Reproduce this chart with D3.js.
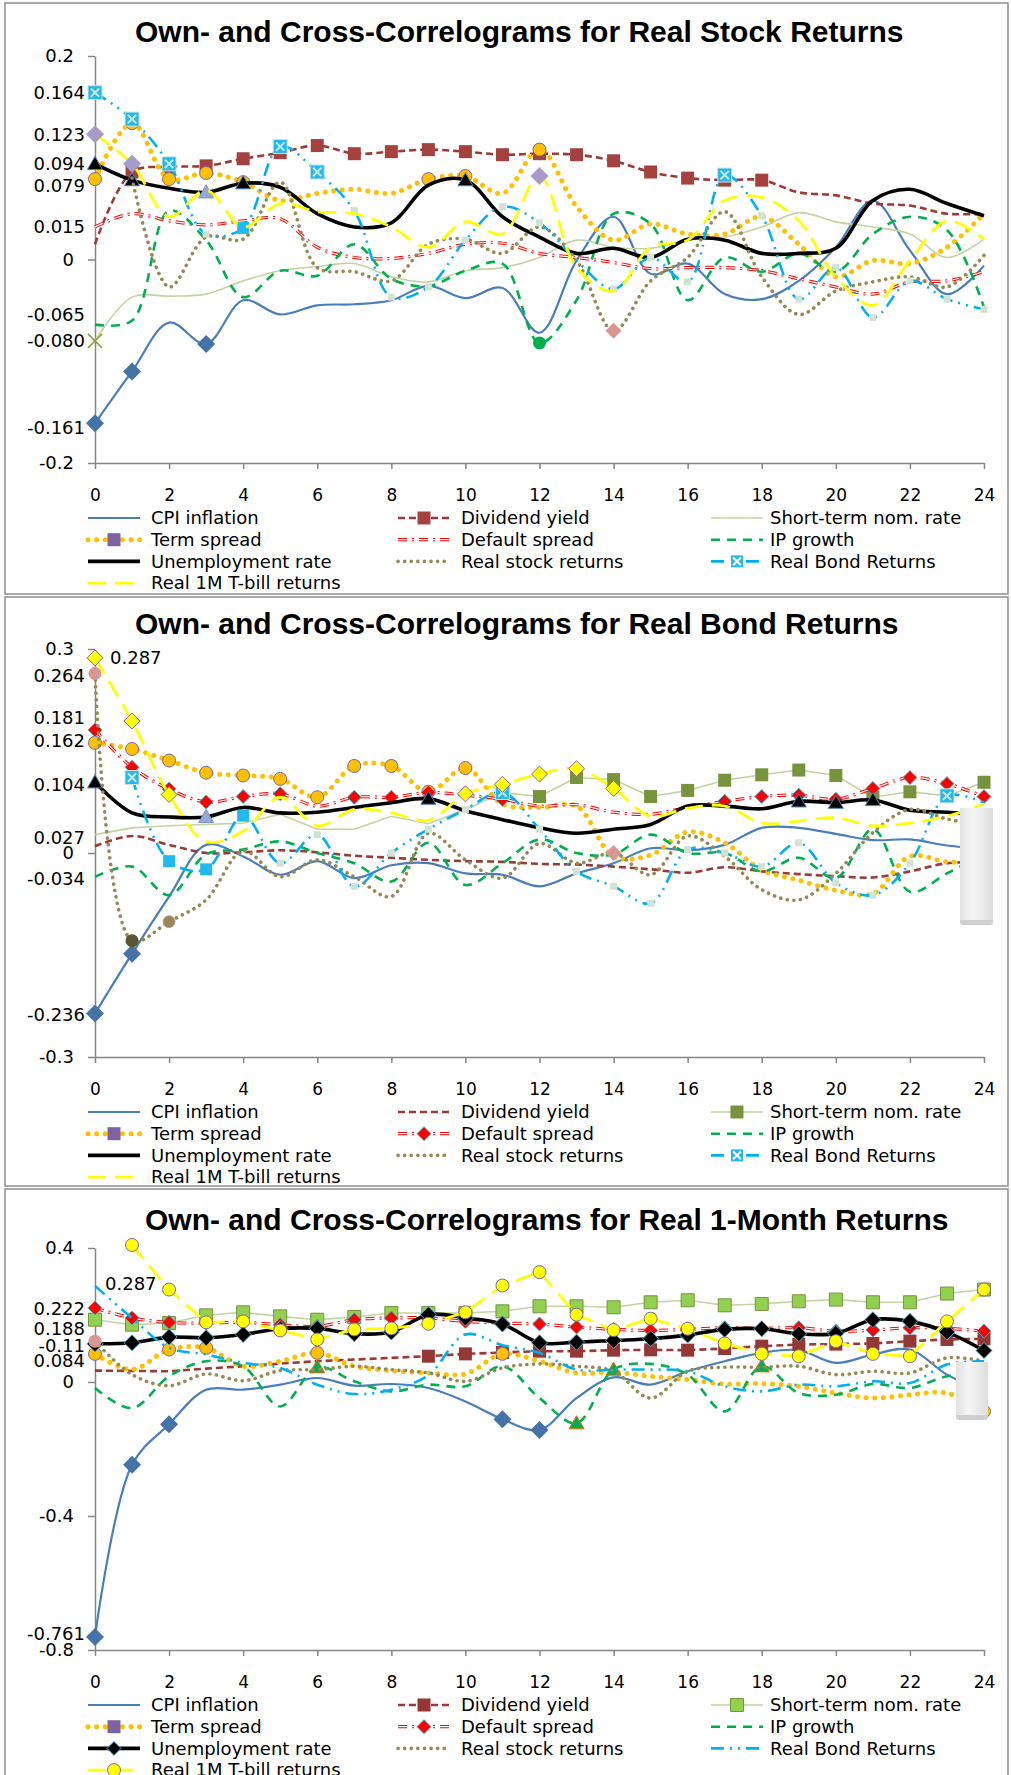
<!DOCTYPE html>
<html>
<head>
<meta charset="utf-8">
<script src="https://cdn.jsdelivr.net/npm/d3@7"></script>
<style>
  body { margin: 0; background: #fff; }
  svg text { font-family: "DejaVu Sans", sans-serif; fill: #000; }
</style>
</head>
<body>
<svg id="chart" width="1011" height="1775"></svg>
<script>
// lags on the x axis
const lags = [0,1,2,3,4,5,6,7,8,9,10,11,12,13,14,15,16,17,18,19,20,21,22,23,24];
const xTickLags = [0,2,4,6,8,10,12,14,16,18,20,22,24];

const seriesNames = ['CPI inflation', 'Dividend yield', 'Short-term nom. rate',
  'Term spread', 'Default spread', 'IP growth',
  'Unemployment rate', 'Real stock returns', 'Real Bond Returns',
  'Real 1M T-bill returns'];

// --- panel 1: real stock returns ---
const stockCpi = [-0.161,-0.110,-0.062,-0.083,-0.040,-0.054,-0.045,-0.044,-0.040,-0.026,-0.038,-0.028,-0.072,-0.001,0.042,-0.014,-0.004,-0.034,-0.039,-0.021,0.012,0.058,0.009,-0.034,-0.006];
const stockDiv = [0.015,0.086,0.091,0.092,0.099,0.105,0.112,0.104,0.106,0.108,0.106,0.103,0.104,0.103,0.097,0.086,0.080,0.078,0.078,0.066,0.063,0.055,0.053,0.045,0.045];
const stockShort = [-0.080,-0.037,-0.036,-0.034,-0.021,-0.011,-0.007,-0.004,-0.017,-0.022,-0.011,-0.008,0.002,0.019,0.012,0.011,0.019,0.022,0.032,0.046,0.037,0.032,0.025,0.002,0.020];
const stockTerm = [0.079,0.134,0.079,0.085,0.076,0.058,0.065,0.069,0.065,0.079,0.082,0.065,0.108,0.052,0.019,0.035,0.025,0.025,0.042,0.015,-0.017,-0.001,-0.004,0.012,0.045];
const stockDefault = [0.032,0.045,0.038,0.034,0.038,0.040,0.012,0.002,0.001,0.006,0.015,0.016,0.006,0.002,-0.003,-0.009,-0.008,-0.008,-0.011,-0.019,-0.027,-0.034,-0.022,-0.021,-0.012];
const stockIp = [-0.064,-0.060,0.048,0.019,-0.037,-0.011,-0.016,0.015,-0.019,-0.026,-0.011,-0.004,-0.082,-0.040,0.045,0.035,-0.040,0.002,-0.012,0.006,-0.012,0.025,0.042,0.029,-0.047];
const stockUnemp = [0.094,0.078,0.070,0.066,0.075,0.071,0.045,0.032,0.036,0.073,0.078,0.042,0.022,0.006,0.011,0.002,0.020,0.019,0.006,0.006,0.011,0.058,0.069,0.055,0.043];
const stockStock = [null,0.080,-0.027,0.022,0.020,0.076,-0.008,-0.012,-0.021,0.015,0.020,0.006,0.032,-0.001,-0.070,-0.021,0.002,0.047,-0.017,-0.054,-0.031,-0.022,-0.017,-0.027,0.004];
const stockBond = [0.164,0.138,0.094,0.025,0.031,0.111,0.086,0.048,-0.037,-0.027,0.019,0.052,0.036,-0.001,-0.029,0.002,-0.022,0.083,0.043,-0.039,-0.008,-0.057,-0.021,-0.039,-0.049];
const stockTbill = [0.123,0.094,0.042,0.068,0.032,0.055,0.047,0.045,0.032,0.012,0.037,0.025,0.082,-0.008,-0.031,0.012,0.019,0.058,0.061,0.038,-0.017,-0.045,-0.001,0.038,0.020];
const stockTickVals = [0.2, 0, -0.2];
const stockTickText = ['0.2', '0', '-0.2'];
const stockLabelVals = [0.164, 0.123, 0.094, 0.079, 0.015, -0.065, -0.080, -0.161];
const stockLabelText = ['0.164', '0.123', '0.094', '0.079', '0.015', '-0.065', '-0.080', '-0.161'];

// --- panel 2: real bond returns ---
const bondCpi = [-0.236,-0.148,-0.064,0.012,-0.005,-0.032,-0.012,-0.037,-0.018,-0.015,-0.030,-0.032,-0.049,-0.030,-0.015,0.007,0.004,0.012,0.037,0.037,0.028,0.019,0.020,0.011,0.006];
const bondDiv = [0.010,0.025,0.012,0.000,0.001,0.004,0.001,-0.004,-0.007,-0.010,-0.012,-0.013,-0.016,-0.017,-0.020,-0.024,-0.029,-0.021,-0.027,-0.031,-0.034,-0.036,-0.027,-0.015,-0.014];
const bondShort = [0.027,0.037,0.040,0.042,0.044,0.057,0.035,0.035,0.054,0.043,0.064,0.089,0.083,0.111,0.108,0.083,0.092,0.107,0.115,0.122,0.114,0.082,0.090,0.084,0.104];
const bondTerm = [0.162,0.153,0.136,0.118,0.114,0.109,0.082,0.128,0.128,0.090,0.125,0.072,0.067,0.069,-0.005,-0.003,0.031,0.015,-0.025,-0.040,-0.055,-0.060,-0.005,-0.013,-0.015];
const bondDefault = [0.181,0.126,0.094,0.075,0.083,0.087,0.069,0.082,0.082,0.089,0.085,0.079,0.069,0.071,0.060,0.057,0.067,0.076,0.083,0.085,0.079,0.095,0.111,0.102,0.083];
const bondIp = [-0.035,-0.020,-0.062,-0.002,0.005,0.017,0.000,-0.015,-0.042,0.015,-0.047,-0.015,0.020,0.000,-0.002,0.027,0.000,0.000,-0.027,-0.007,-0.037,0.035,-0.057,-0.030,-0.002];
const bondUnemp = [0.104,0.059,0.053,0.053,0.067,0.059,0.060,0.067,0.074,0.080,0.062,0.049,0.037,0.029,0.035,0.042,0.069,0.069,0.065,0.076,0.074,0.078,0.063,0.060,0.056];
const bondStock = [0.264,-0.129,-0.101,-0.069,0.003,-0.035,-0.010,-0.035,-0.064,0.029,-0.010,-0.037,0.014,-0.015,0.000,-0.032,0.025,-0.005,-0.054,-0.069,-0.030,0.030,0.064,0.050,0.040];
const bondBond = [null,0.111,-0.012,-0.024,0.055,-0.015,0.027,-0.049,0.000,0.035,0.064,0.089,0.035,-0.027,-0.049,-0.074,0.005,0.000,-0.020,0.015,-0.044,-0.062,-0.015,0.084,0.074];
const bondTbill = [0.287,0.194,0.086,0.017,0.032,0.082,0.040,0.064,0.059,0.048,0.087,0.101,0.116,0.124,0.095,0.054,0.066,0.069,0.044,0.047,0.052,0.040,0.044,0.054,0.072];
const bondTickVals = [0.3, 0, -0.3];
const bondTickText = ['0.3', '0', '-0.3'];
const bondLabelVals = [0.287, 0.264, 0.181, 0.162, 0.104, 0.027, -0.034, -0.236];
const bondLabelText = ['0.287', '0.264', '0.181', '0.162', '0.104', '0.027', '-0.034', '-0.236'];

// --- panel 3: real 1-month returns ---
const m1Cpi = [-0.761,-0.247,-0.126,-0.023,-0.023,-0.008,0.012,-0.011,-0.006,-0.018,-0.058,-0.111,-0.143,-0.048,0.014,-0.008,0.032,0.062,0.087,0.095,0.057,0.082,0.097,0.022,-0.028];
const m1Div = [0.034,0.033,0.032,0.040,0.047,0.055,0.062,0.067,0.072,0.077,0.084,0.088,0.092,0.092,0.095,0.096,0.095,0.100,0.107,0.112,0.113,0.115,0.122,0.127,0.129];
const m1Short = [0.186,0.171,0.176,0.199,0.208,0.196,0.186,0.194,0.206,0.206,0.206,0.211,0.226,0.226,0.223,0.238,0.244,0.229,0.233,0.241,0.246,0.238,0.238,0.264,0.276];
const m1Term = [0.084,0.037,0.097,0.102,0.047,0.062,0.087,0.047,0.034,0.027,0.024,0.084,0.062,0.027,0.029,0.017,0.007,-0.006,-0.005,-0.013,-0.033,-0.048,-0.038,-0.033,-0.088];
const m1Default = [0.221,0.191,0.178,0.176,0.178,0.171,0.166,0.186,0.191,0.191,0.181,0.176,0.173,0.164,0.157,0.154,0.157,0.162,0.160,0.162,0.152,0.155,0.162,0.160,0.152];
const m1Ip = [-0.018,-0.078,0.017,0.062,0.047,-0.073,0.044,0.002,-0.028,-0.008,-0.013,0.047,-0.048,-0.123,0.037,0.054,0.022,-0.088,0.047,-0.033,-0.038,-0.006,-0.018,0.017,0.022];
const m1Unemp = [0.114,0.117,0.134,0.132,0.142,0.159,0.160,0.144,0.149,0.201,0.191,0.173,0.117,0.119,0.124,0.129,0.140,0.157,0.159,0.144,0.145,0.186,0.181,0.149,0.094];
const m1Stock = [0.122,0.022,-0.011,0.024,0.004,0.034,0.037,0.047,0.037,0.027,0.002,0.042,0.054,0.047,0.032,-0.048,0.032,0.044,0.044,0.047,0.022,0.032,0.027,0.072,0.062];
const m1Bond = [0.287,0.191,0.102,0.082,0.057,0.042,-0.008,-0.036,-0.023,0.020,0.142,0.110,0.087,0.037,0.037,0.037,0.032,-0.013,-0.028,-0.008,-0.013,0.002,-0.003,0.052,0.062];
const m1Tbill = [null,0.409,0.276,0.178,0.181,0.154,0.127,0.157,0.160,0.174,0.208,0.288,0.328,0.201,0.155,0.189,0.159,0.115,0.084,0.077,0.122,0.084,0.077,0.181,0.276];
const m1TickVals = [0.4, 0, -0.4, -0.8];
const m1TickText = ['0.4', '0', '-0.4', '-0.8'];
const m1LabelVals = [0.287, 0.222, 0.188, 0.107, 0.084, -0.761];
const m1LabelText = ['0.287', '0.222', '0.188', '-0.11', '0.084', '-0.761'];

// line look for each series (same in every panel)
const lineStyles = [
  {color: '#4a7ebb', width: 2.2},
  {color: '#9b3b37', width: 2.6, dash: '7,4'},
  {color: '#c3d3a2', width: 1.6},
  {color: '#ffc000', width: 5, dash: '0.1,8.5', cap: 'round'},
  {color: '#ff0000', width: 3.2, dash: '9,5,2,5', hollow: true},
  {color: '#00b050', width: 2.6, dash: '9,7'},
  {color: '#000000', width: 3.6},
  {color: '#948a54', width: 3.6, dash: '0.1,6.5', cap: 'round'},
  {color: '#00b0f0', width: 2.6, dash: '13,6,2,6,2,6'},
  {color: '#ffff00', width: 2.8, dash: '18,9'}
];

const x = d3.scaleLinear().domain([0, 24]).range([95, 984]);

const mk = (shape, s, fill, stroke, lagList) => ({shape, s, fill, stroke, lags: lagList});
const BLUE_D = '#4572a7', PURPLE = '#7a66a8', FAINT = '#d3e3d3';

const panels = [
  {
    title: 'Own- and Cross-Correlograms for Real Stock Returns',
    box: [3, 594], titleX: 135, titleY: 42,
    yDomain: [-0.2, 0.2], yRange: [463, 56],
    tickVals: stockTickVals, tickText: stockTickText,
    labelVals: stockLabelVals, labelText: stockLabelText,
    labelNudge: [0, 0, 0, 7, -18, -11, 0, 4], labelStart: {},
    series: [stockCpi, stockDiv, stockShort, stockTerm, stockDefault, stockIp, stockUnemp, stockStock, stockBond, stockTbill],
    straight: [],
    markers: [
      [mk('diamond', 9, BLUE_D, 'none', [0, 1, 3])],
      [mk('square', 6.5, '#a5423f', 'none', d3.range(1, 19))],
      [mk('x', 7, 'none', '#8da040', [0])],
      [mk('circle', 6.5, '#ffc000', PURPLE, [0, 1, 2, 3, 4, 9, 10, 12])],
      [],
      [mk('circle', 6.5, '#00b050', 'none', [12])],
      [mk('triangle', 7.5, '#000', '#4f81bd', [0, 1, 4, 10]), mk('triangle', 7.5, '#95a9d5', '#7f8fc0', [3])],
      [mk('diamond', 8, '#d99694', 'none', [14])],
      [mk('square', 3.5, FAINT, 'none', [3, 7, 8, 9, 10, 11, 12, 14, 15, 16, 18, 19, 20, 21, 22, 23, 24]),
       mk('xsquare', 7, '#22b8f0', '#c9e6d6', [0, 1, 2, 5, 6, 17]), mk('square', 6, '#22b8f0', 'none', [4])],
      [mk('diamond', 9, '#a79bc8', 'none', [0, 1, 12])]
    ],
    legendMarks: [null, mk('square', 6.5, '#a5423f'), null, mk('square', 6.5, '#7f63a0'), null, null, null, null, mk('xsquare', 6.5, '#22b8f0', '#ffffff'), null],
    greyBox: null
  },
  {
    title: 'Own- and Cross-Correlograms for Real Bond Returns',
    box: [597, 1186], titleX: 135, titleY: 634,
    yDomain: [-0.3, 0.3], yRange: [1057, 649],
    tickVals: bondTickVals, tickText: bondTickText,
    labelVals: bondLabelVals, labelText: bondLabelText,
    labelNudge: [0, 2, -12, -2, 2, 3, 3, 1], labelStart: {'0.287': 110},
    series: [bondCpi, bondDiv, bondShort, bondTerm, bondDefault, bondIp, bondUnemp, bondStock, bondBond, bondTbill],
    straight: [2],
    markers: [
      [mk('diamond', 9, BLUE_D, 'none', [0, 1])],
      [],
      [mk('square', 6.5, '#77933c', 'none', d3.range(11, 25))],
      [mk('circle', 6.5, '#ffc000', PURPLE, d3.range(0, 11))],
      [mk('diamond', 7, '#ff0000', '#4bacc6', [0, 1, 2, 3, 4, 5, 7, 8, 9, 11, 17, 18, 19, 20, 21, 22, 23, 24])],
      [],
      [mk('triangle', 7.5, '#000', '#4f81bd', [0, 9, 19, 20, 21]), mk('triangle', 7.5, '#95a9d5', '#7f8fc0', [3])],
      [mk('circle', 6.5, '#d99694', 'none', [0]), mk('circle', 6.5, '#5b5434', 'none', [1]),
       mk('circle', 6, '#948a54', '#d99694', [2]), mk('diamond', 8, '#d99694', 'none', [14])],
      [mk('square', 3.5, FAINT, 'none', [5, 6, 7, 8, 9, 10, 12, 13, 14, 15, 16, 17, 18, 19, 20, 21, 22]),
       mk('xsquare', 7, '#22b8f0', '#c9e6d6', [1, 11, 23]), mk('square', 6, '#22b8f0', 'none', [2, 3, 4])],
      [mk('diamond', 8, '#ffff00', '#8064a2', [0, 1, 2, 10, 11, 12, 13, 14])]
    ],
    legendMarks: [null, null, mk('square', 6.5, '#77933c'), mk('square', 6.5, '#7f63a0'), mk('diamond', 7, '#ff0000', '#4bacc6'), null, null, null, mk('xsquare', 6.5, '#22b8f0', '#ffffff'), null],
    greyBox: [960, 808, 33, 115]
  },
  {
    title: 'Own- and Cross-Correlograms for Real 1-Month Returns',
    box: [1189, 1795], titleX: 145, titleY: 1230,
    yDomain: [-0.8, 0.4], yRange: [1650, 1248],
    tickVals: m1TickVals, tickText: m1TickText,
    labelVals: m1LabelVals, labelText: m1LabelText,
    labelNudge: [-2, 1, 10, 0, 7, -3], labelStart: {'0.287': 105},
    series: [m1Cpi, m1Div, m1Short, m1Term, m1Default, m1Ip, m1Unemp, m1Stock, m1Bond, m1Tbill],
    straight: [1, 2, 9],
    markers: [
      [mk('diamond', 9, BLUE_D, 'none', [0, 1, 2, 11, 12])],
      [mk('square', 6.5, '#953735', 'none', d3.range(9, 25))],
      [mk('square', 6.5, '#92d050', '#77933c', d3.range(0, 25))],
      [mk('circle', 6.5, '#ffc000', PURPLE, [0, 2, 3, 6, 11, 24])],
      [mk('diamond', 7, '#ff0000', '#4bacc6', d3.range(0, 25))],
      [mk('triangle', 7.5, '#00b050', '#e46c0a', [6, 13, 14, 18])],
      [mk('diamond', 8, '#000', '#4bacc6', d3.range(0, 25))],
      [mk('circle', 6.5, '#d99694', 'none', [0])],
      [],
      [mk('circle', 6.5, '#ffff00', '#8064a2', d3.range(1, 25))]
    ],
    legendMarks: [null, mk('square', 6.5, '#953735'), mk('square', 6.5, '#92d050', '#77933c'), mk('square', 6.5, '#7f63a0'), mk('diamond', 7, '#ff0000', '#4bacc6'), null, mk('diamond', 7, '#000', '#4bacc6'), null, null, mk('circle', 6.5, '#ffff00', '#8064a2')],
    greyBox: [956, 1362, 32, 56]
  }
];

function shapePath(shape, s) {
  switch (shape) {
    case 'diamond': return `M0,${-s}L${s},0L0,${s}L${-s},0Z`;
    case 'triangle': return `M0,${-s}L${s},${s * 0.75}L${-s},${s * 0.75}Z`;
    case 'circle': return `M${s},0A${s},${s} 0 1,1 ${-s},0A${s},${s} 0 1,1 ${s},0Z`;
    case 'x': return `M${-s},${-s}L${s},${s}M${-s},${s}L${s},${-s}`;
    default: return `M${-s},${-s}H${s}V${s}H${-s}Z`;
  }
}

function drawMarker(g, m, cx, cy) {
  const node = g.append('g').attr('transform', `translate(${cx},${cy})`);
  if (m.shape === 'x') {
    node.append('path').attr('d', shapePath('x', m.s))
        .attr('stroke', m.stroke).attr('stroke-width', 1.5).attr('fill', 'none');
    return;
  }
  node.append('path').attr('d', shapePath(m.shape, m.s))
      .attr('fill', m.fill)
      .attr('stroke', m.stroke || 'none')
      .attr('stroke-width', 1);
  if (m.shape === 'xsquare') {
    node.append('path').attr('d', shapePath('x', m.s * 0.6))
        .attr('stroke', m.stroke).attr('stroke-width', 2).attr('fill', 'none');
  }
}

function styleLine(path, st, over) {
  path.attr('fill', 'none')
      .attr('stroke', over ? '#fff' : st.color)
      .attr('stroke-width', over ? st.width - 2 : st.width)
      .attr('stroke-dasharray', st.dash || null)
      .attr('stroke-linecap', st.cap || 'butt')
      .attr('stroke-linejoin', 'round');
}

const svg = d3.select('#chart');

const defs = svg.append('defs');
const grad = defs.append('linearGradient').attr('id', 'greyGrad');
grad.append('stop').attr('offset', '0%').attr('stop-color', '#e2e2e2');
grad.append('stop').attr('offset', '40%').attr('stop-color', '#f5f5f5');
grad.append('stop').attr('offset', '100%').attr('stop-color', '#dedede');

panels.forEach(p => {
  const g = svg.append('g');
  const y = d3.scaleLinear().domain(p.yDomain).range(p.yRange);
  const axisY = p.yRange[0];

  g.append('rect')
      .attr('x', 5).attr('y', p.box[0])
      .attr('width', 1003).attr('height', p.box[1] - p.box[0])
      .attr('fill', '#fff').attr('stroke', '#8e8e8e').attr('stroke-width', 1.5);

  g.append('text')
      .attr('x', p.titleX).attr('y', p.titleY)
      .style('font-family', '"Liberation Sans", Arial, sans-serif')
      .style('font-weight', 'bold')
      .style('font-size', '30px')
      .text(p.title);

  // axes
  g.append('g')
      .attr('transform', `translate(0,${axisY})`)
      .call(d3.axisBottom(x).tickValues(xTickLags).tickSizeInner(6).tickSizeOuter(0).tickPadding(20).tickFormat(d => String(d)))
      .call(a => a.selectAll('path,line').attr('stroke', '#868686').attr('stroke-width', 1.5))
      .call(a => a.selectAll('text').style('font-size', '17px').style('font-family', '"DejaVu Sans", sans-serif'));

  g.append('g')
      .attr('transform', `translate(${x(0)},0)`)
      .call(d3.axisLeft(y).tickValues(p.tickVals).tickSizeInner(7).tickSizeOuter(0).tickPadding(14)
          .tickFormat((d, i) => p.tickText[i]))
      .call(a => a.selectAll('path,line').attr('stroke', '#868686').attr('stroke-width', 1.5))
      .call(a => a.selectAll('text').style('font-size', '18px').style('font-family', '"DejaVu Sans", sans-serif'));

  // value labels beside the axis
  g.selectAll('.vlabel')
    .data(p.labelVals.map((v, i) => ({v, text: p.labelText[i], nudge: p.labelNudge[i]})))
    .join('text')
      .attr('class', 'vlabel')
      .attr('x', d => p.labelStart[d.text] !== undefined ? p.labelStart[d.text] : 85)
      .attr('y', d => y(d.v) + d.nudge)
      .attr('dy', '0.35em')
      .attr('text-anchor', d => p.labelStart[d.text] !== undefined ? 'start' : 'end')
      .style('font-size', '18px')
      .text(d => d.text);

  // series
  p.series.forEach((vals, si) => {
    const st = lineStyles[si];
    const pts = lags.map((lag, i) => ({lag, v: vals[i]}));
    const line = d3.line()
        .defined(d => d.v !== null)
        .x(d => x(d.lag))
        .y(d => y(d.v))
        .curve(p.straight.includes(si) ? d3.curveLinear : d3.curveCatmullRom.alpha(0.5));
    const sg = g.append('g').attr('class', 'series');
    sg.append('path').attr('d', line(pts)).call(path => styleLine(path, st, false));
    if (st.hollow) sg.append('path').attr('d', line(pts)).call(path => styleLine(path, st, true));
    p.markers[si].forEach(m => {
      m.lags.forEach(lag => {
        if (vals[lag] === null) return;
        drawMarker(sg, m, x(lag), y(vals[lag]));
      });
    });
  });

  if (p.greyBox) {
    const [bx, by, bw, bh] = p.greyBox;
    g.append('rect').attr('x', bx).attr('y', by + bh - 6).attr('width', bw).attr('height', 8)
        .attr('rx', 3).attr('fill', '#cfcfcf');
    g.append('rect').attr('x', bx).attr('y', by).attr('width', bw).attr('height', bh - 3)
        .attr('fill', 'url(#greyGrad)');
  }

  // legend
  const colSample = [88, 398, 711];
  const colText = [151, 461, 770];
  const legTop = axisY + 55;
  seriesNames.forEach((name, i) => {
    const col = i % 3, row = Math.floor(i / 3);
    const ly = legTop + row * 21.7;
    const st = lineStyles[i];
    const lg = g.append('g');
    const x0 = colSample[col], x1 = colSample[col] + 52;
    lg.append('path').attr('d', `M${x0},${ly}H${x1}`).call(path => styleLine(path, st, false));
    if (st.hollow) lg.append('path').attr('d', `M${x0},${ly}H${x1}`).call(path => styleLine(path, st, true));
    const m = p.legendMarks[i];
    if (m) drawMarker(lg, m, (x0 + x1) / 2, ly);
    lg.append('text')
        .attr('x', colText[col]).attr('y', ly).attr('dy', '0.35em')
        .style('font-size', '18px')
        .text(name);
  });
});
</script>
</body>
</html>
